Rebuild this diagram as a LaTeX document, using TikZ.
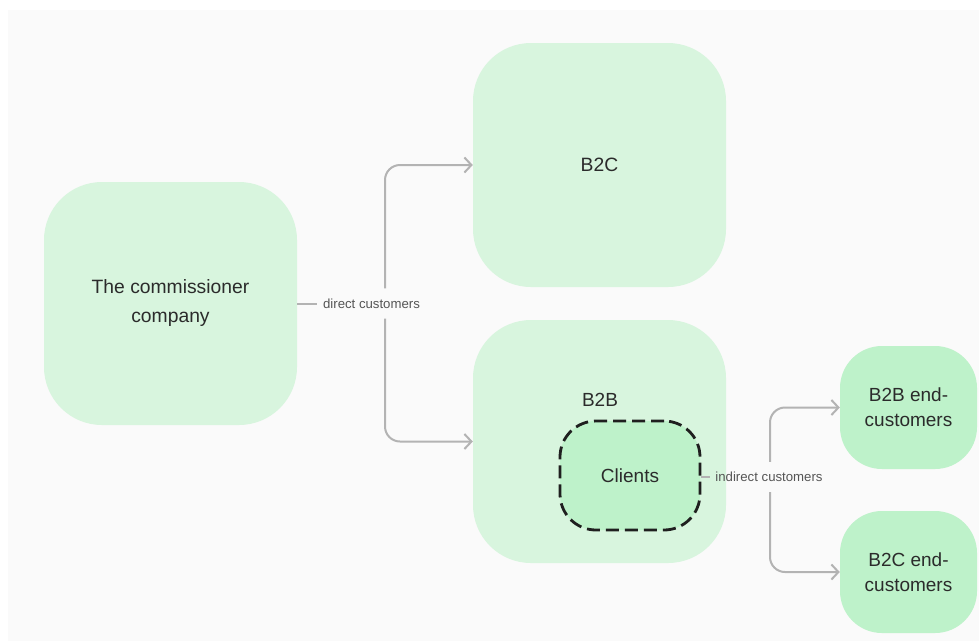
\documentclass[tikz,border=0pt]{standalone}
\usepackage{fontspec}
\setmainfont{Liberation Sans}
\usetikzlibrary{arrows.meta}
\definecolor{bgc}{HTML}{FAFAFA}
\definecolor{lightg}{HTML}{D8F5DE}
\definecolor{midg}{HTML}{BEF2CA}
\definecolor{txt}{HTML}{2B2B2B}
\definecolor{lbl}{HTML}{555555}
\definecolor{conn}{HTML}{B3B3B3}
\tikzset{
  bigbox/.style={rectangle, fill=lightg, rounded corners=58pt, minimum width=253pt, minimum height=243pt, inner sep=0pt, text=txt, font=\fontsize{19.3}{29}\selectfont, align=center},
  endbox/.style={rectangle, fill=midg, rounded corners=42pt, minimum width=137pt, minimum height=122pt, inner sep=0pt, text=txt, font=\fontsize{19}{25}\selectfont, align=center},
  clientbox/.style={rectangle, fill=midg, draw=black!88, line width=2.8pt, dash pattern=on 13pt off 6pt, rounded corners=36pt, minimum width=140pt, minimum height=109pt, inner sep=0pt, text=txt, font=\fontsize{19}{25}\selectfont},
  boxtext/.style={text=txt, font=\fontsize{19}{25}\selectfont, inner sep=0pt},
  connector/.style={draw=conn, line width=2pt, rounded corners=15pt, -{Straight Barb[length=7pt,width=15pt]}},
  plainline/.style={draw=conn, line width=2pt},
  edgelabel/.style={text=lbl, font=\fontsize{13.2}{16}\selectfont, inner xsep=6pt, inner ysep=0pt, minimum height=30pt}
}
\begin{document}
\begin{tikzpicture}[x=1pt,y=-1pt]
\useasboundingbox (0,0) rectangle (979,641);
\fill[bgc] (8,10) rectangle (979,641);

\node[bigbox] (comm) at (170.5,303.5) {The commissioner\\company};
\node[bigbox, minimum height=244pt] (b2c) at (599.5,165) {B2C};
\node[bigbox] (b2b) at (599.5,441.5) {};
\node[boxtext] (b2blabel) at (600,400) {B2B};
\node[clientbox] (clients) at (630,475.5) {Clients};
\node[endbox, minimum height=123pt] (b2bend) at (908.5,407.5) {B2B end-\\customers};
\node[endbox] (b2cend) at (908.5,572) {B2C end-\\customers};

\node[edgelabel] (dlab) at (371.5,303.5) {direct customers};
\node[edgelabel, inner xsep=5pt] (ilab) at (769,477) {indirect customers};
\coordinate (dj) at (385,303.5);
\coordinate (ij) at (770,477);

\draw[plainline] (comm.east |- dlab.west) -- (dlab.west);
\draw[connector] (dlab.north -| dj) |- (b2c.west);
\draw[connector] (dlab.south -| dj) |- (b2b.west);
\draw[plainline] (clients.east |- ilab.west) -- (ilab.west);
\draw[connector] (ilab.north -| ij) |- (b2bend.west);
\draw[connector] (ilab.south -| ij) |- (b2cend.west);
\end{tikzpicture}
\end{document}
